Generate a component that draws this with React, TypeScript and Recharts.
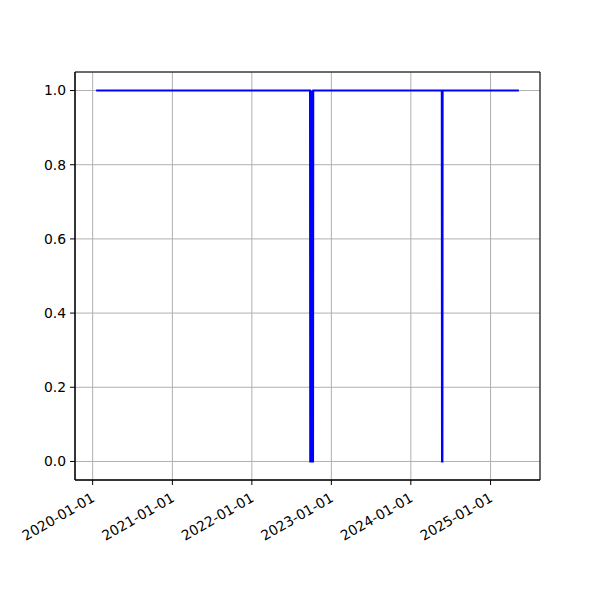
import {
  CartesianGrid,
  Line,
  LineChart,
  ReferenceArea,
  XAxis,
  YAxis,
} from 'recharts'

// status series: 1 = up, 0 = down
const DATES = [
  '2020-01-17',
  '2022-09-25', '2022-09-26', '2022-09-29', '2022-09-30', '2022-10-01',
  '2022-10-05', '2022-10-06', '2022-10-07', '2022-10-09', '2022-10-10',
  '2024-05-22', '2024-05-23', '2024-05-25', '2024-05-26',
  '2025-05-11',
]
const VALUES = [
  1,
  1, 0, 0, 1, 0,
  0, 1, 0, 0, 1,
  1, 0, 0, 1,
  1,
]

const X_TICKS = ['2020-01-01', '2021-01-01', '2022-01-01', '2023-01-01', '2024-01-01', '2025-01-01']
const Y_TICKS = [0, 0.2, 0.4, 0.6, 0.8, 1.0]

const FONT = 'DejaVu Sans'
const FS = 13.9

const ts = (d: string) => Date.parse(d + 'T00:00:00Z')

const data = DATES.map((d, i) => ({ t: ts(d), v: VALUES[i] }))

const tMin = data[0].t
const tMax = data[data.length - 1].t
const pad = (tMax - tMin) * 0.05
const xDomain: [number, number] = [tMin - pad, tMax + pad]
const yDomain: [number, number] = [-0.05, 1.05]

const fmtDate = (t: number) => new Date(t).toISOString().slice(0, 10)

function DateTick(props: any) {
  const { x, y, payload } = props
  return (
    <g transform={`translate(${x - 2},${y + 5})`}>
      <text
        x={0}
        y={0}
        dy={10}
        textAnchor="end"
        transform="rotate(-30)"
        fontFamily={FONT}
        fontSize={FS}
        fill="#000"
      >
        {fmtDate(payload.value)}
      </text>
    </g>
  )
}

export default function App() {
  return (
    <div style={{ position: 'absolute', left: 0, top: 0, width: 600, height: 600, background: '#fff' }}>
      <LineChart
        width={600}
        height={600}
        data={data}
        margin={{ top: 72, right: 60, left: 15, bottom: 0 }}
      >
        <CartesianGrid stroke="#b0b0b0" strokeWidth={1} />
        <XAxis
          dataKey="t"
          type="number"
          scale="time"
          domain={xDomain}
          ticks={X_TICKS.map(ts)}
          height={120}
          tickSize={5}
          tickLine={{ stroke: '#000' }}
          axisLine={{ stroke: '#000' }}
          tick={<DateTick />}
          interval={0}
          allowDataOverflow
        />
        <YAxis
          type="number"
          domain={yDomain}
          ticks={Y_TICKS}
          width={60}
          tickSize={5}
          tickMargin={4}
          tickLine={{ stroke: '#000' }}
          axisLine={{ stroke: '#000' }}
          tickFormatter={(v: number) => v.toFixed(1)}
          tick={{ fontFamily: FONT, fontSize: FS, fill: '#000' }}
          interval={0}
          allowDataOverflow
        />
        <ReferenceArea
          x1={xDomain[0]}
          x2={xDomain[1]}
          y1={yDomain[0]}
          y2={yDomain[1]}
          fill="none"
          stroke="#000"
          strokeWidth={1}
          ifOverflow="visible"
        />
        <Line
          type="linear"
          dataKey="v"
          stroke="#0000ff"
          strokeWidth={2}
          dot={false}
          isAnimationActive={false}
        />
      </LineChart>
    </div>
  )
}
